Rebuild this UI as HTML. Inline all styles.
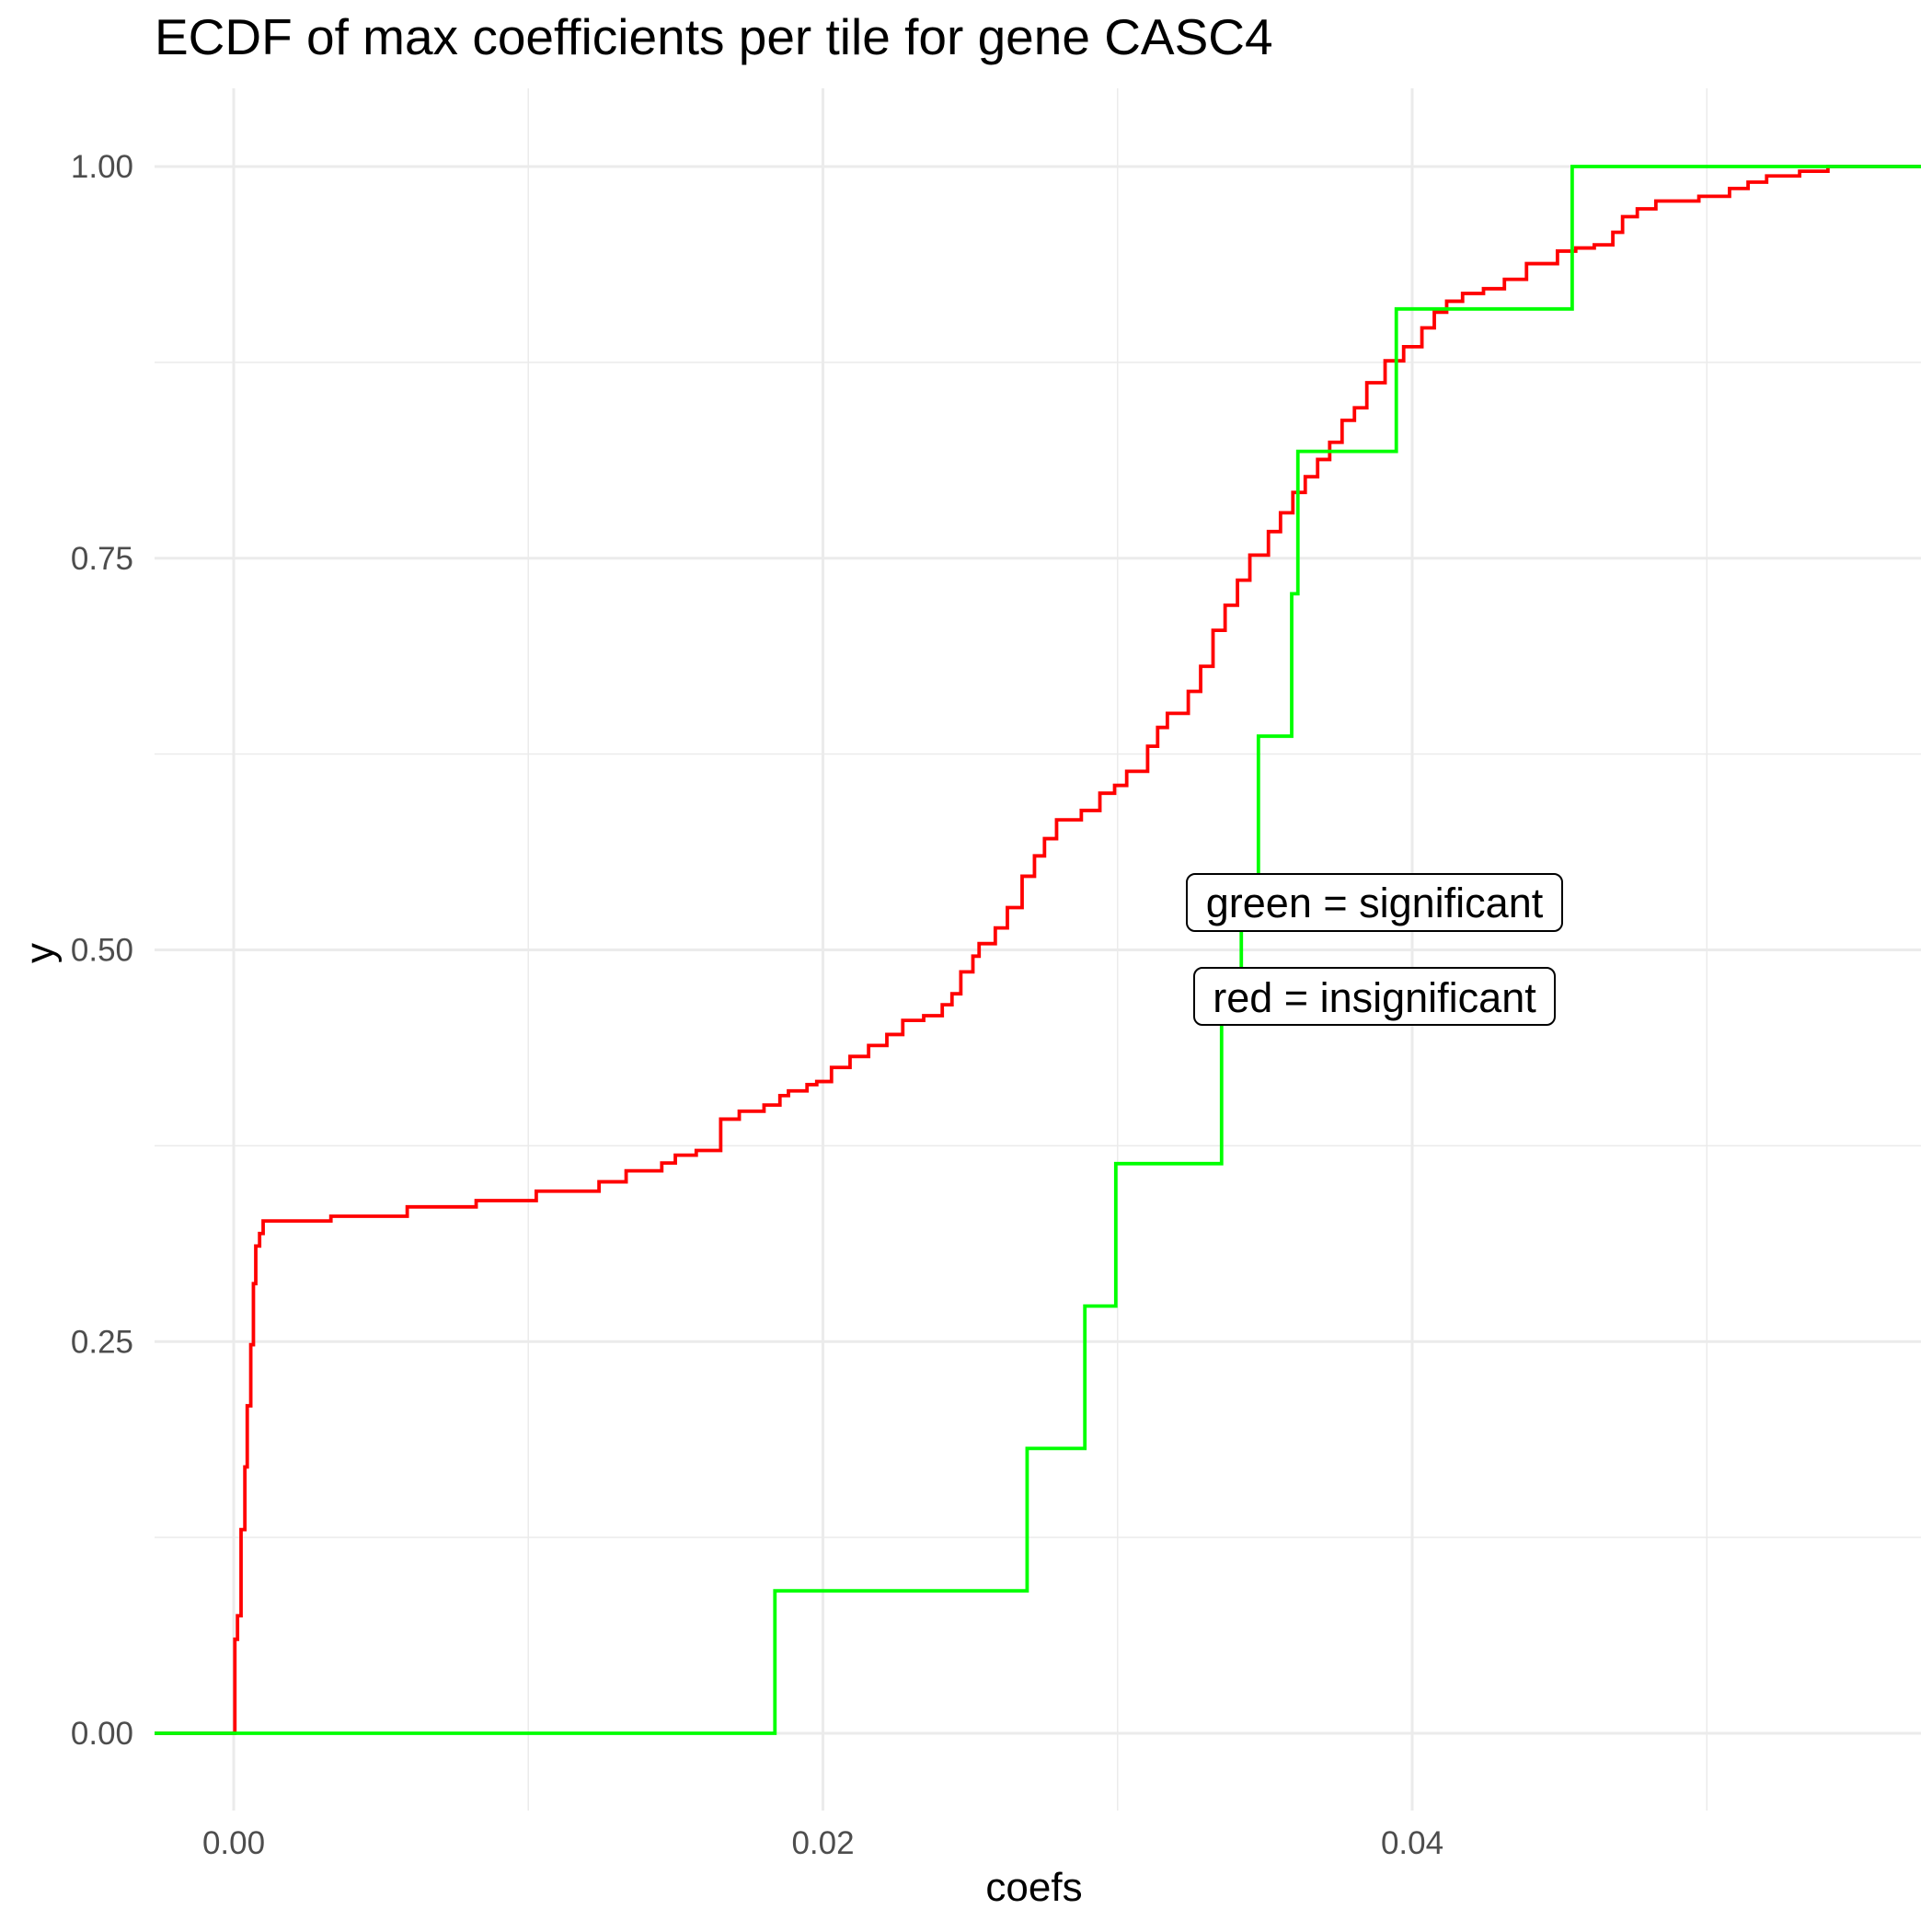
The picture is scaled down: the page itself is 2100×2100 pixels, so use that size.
<!DOCTYPE html>
<html><head><meta charset="utf-8"><style>
html,body{margin:0;padding:0;background:#fff;}
svg{display:block;font-family:"Liberation Sans",Arial,sans-serif;}
</style></head><body>
<svg id="chart" width="2100" height="2100" viewBox="0 0 2100 2100" xmlns="http://www.w3.org/2000/svg">
<text x="168" y="59" font-size="55" fill="#000">ECDF of max coefficients per tile for gene CASC4</text>
<g id="grid"></g>
<g id="series"></g>
<g id="axes"></g>
<g>
<rect x="1290" y="950" width="408" height="62" rx="9" fill="#fff" stroke="#000" stroke-width="2"/>
<text x="1494" y="997" font-size="45" text-anchor="middle" fill="#000">green = significant</text>
</g>
<g>
<rect x="1298" y="1052" width="392" height="62" rx="9" fill="#fff" stroke="#000" stroke-width="2"/>
<text x="1494" y="1100" font-size="45" text-anchor="middle" fill="#000">red = insignificant</text>
</g>
<text x="1124" y="2066" font-size="44" text-anchor="middle" fill="#000">coefs</text>
<text x="0" y="0" font-size="44" text-anchor="middle" fill="#000" transform="translate(58,1036) rotate(-90)">y</text>
</svg>
<script>
const xTicks=[0,0.02,0.04];
const xTickLabels=["0.00","0.02","0.04"];
const xMinor=[0.01,0.03,0.05];
const yTicks=[0,0.25,0.5,0.75,1];
const yTickLabels=["0.00","0.25","0.50","0.75","1.00"];
const yMinor=[0.125,0.375,0.625,0.875];
const redX=[0.00004,0.00013,0.00025,0.00038,0.00046,0.00058,0.00067,0.00075,0.00088,0.00100,0.00330,0.00589,0.00823,0.01027,0.01240,0.01332,0.01453,0.01499,0.01570,0.01653,0.01716,0.01800,0.01854,0.01883,0.01946,0.01979,0.02029,0.02092,0.02155,0.02217,0.02271,0.02342,0.02405,0.02438,0.02468,0.02509,0.02530,0.02585,0.02626,0.02676,0.02718,0.02752,0.02793,0.02877,0.02940,0.02990,0.03031,0.03102,0.03136,0.03169,0.03240,0.03282,0.03324,0.03365,0.03407,0.03449,0.03512,0.03553,0.03595,0.03637,0.03679,0.03720,0.03762,0.03804,0.03846,0.03908,0.03971,0.04033,0.04075,0.04117,0.04171,0.04242,0.04313,0.04388,0.04493,0.04555,0.04618,0.04681,0.04714,0.04764,0.04827,0.04973,0.05077,0.05140,0.05203,0.05315,0.05411];
const redY=[0.060,0.075,0.130,0.170,0.209,0.248,0.287,0.311,0.319,0.327,0.330,0.336,0.340,0.346,0.352,0.359,0.364,0.369,0.372,0.392,0.397,0.401,0.407,0.410,0.414,0.416,0.425,0.432,0.439,0.446,0.455,0.458,0.465,0.472,0.486,0.496,0.504,0.514,0.527,0.547,0.560,0.571,0.583,0.589,0.600,0.605,0.614,0.630,0.642,0.651,0.665,0.681,0.704,0.720,0.736,0.752,0.767,0.779,0.792,0.802,0.813,0.824,0.838,0.846,0.862,0.876,0.885,0.897,0.907,0.914,0.919,0.922,0.928,0.938,0.946,0.948,0.950,0.958,0.968,0.973,0.978,0.981,0.986,0.990,0.994,0.997,1.000];
const greenX=[0.01837,0.02693,0.02889,0.02994,0.03353,0.03420,0.03478,0.03591,0.03612,0.03946,0.04543];
const greenY=[0.0909,0.1818,0.2727,0.3636,0.4545,0.5455,0.6364,0.7273,0.8182,0.9091,1.0];

const PL=168,PR=2088,PT=96,PB=1968;
const X=v=>254+v/0.02*640.5;
const Y=p=>1884-p*1703;
const NS="http://www.w3.org/2000/svg";
function mk(tag,attrs,parent){const e=document.createElementNS(NS,tag);for(const k in attrs)e.setAttribute(k,attrs[k]);parent.appendChild(e);return e;}
const grid=document.getElementById('grid');
xMinor.forEach(v=>{const l=mk('line',{x1:X(v),x2:X(v),y1:PT,y2:PB,stroke:'#ebebeb','stroke-width':1.5},grid);

});
yMinor.forEach(v=>{const l=mk('line',{x1:PL,x2:PR,y1:Y(v),y2:Y(v),stroke:'#ebebeb','stroke-width':1.5},grid);

});
xTicks.forEach(v=>{const l=mk('line',{x1:X(v),x2:X(v),y1:PT,y2:PB,stroke:'#ebebeb','stroke-width':3},grid);

});
yTicks.forEach(v=>{const l=mk('line',{x1:PL,x2:PR,y1:Y(v),y2:Y(v),stroke:'#ebebeb','stroke-width':3},grid);

});
const axes=document.getElementById('axes');
xTicks.forEach((v,i)=>{const t=mk('text',{x:X(v),y:2015,'font-size':35,'text-anchor':'middle',fill:'#4d4d4d'},axes);t.textContent=xTickLabels[i];

});
yTicks.forEach((v,i)=>{const t=mk('text',{x:145,y:Y(v)+12,'font-size':35,'text-anchor':'end',fill:'#4d4d4d'},axes);t.textContent=yTickLabels[i];

});
function stepPath(xs,ys){let d='M'+PL+','+Y(0);
for(let i=0;i<xs.length;i++){d+=' H'+X(xs[i])+' V'+Y(ys[i]);}
d+=' H'+PR;return d;}
const series=document.getElementById('series');
const red=mk('path',{d:stepPath(redX,redY),fill:'none',stroke:'#ff0000','stroke-width':3.8},series);


const green=mk('path',{d:stepPath(greenX,greenY),fill:'none',stroke:'#00ff00','stroke-width':3.8},series);


</script>
</body></html>
